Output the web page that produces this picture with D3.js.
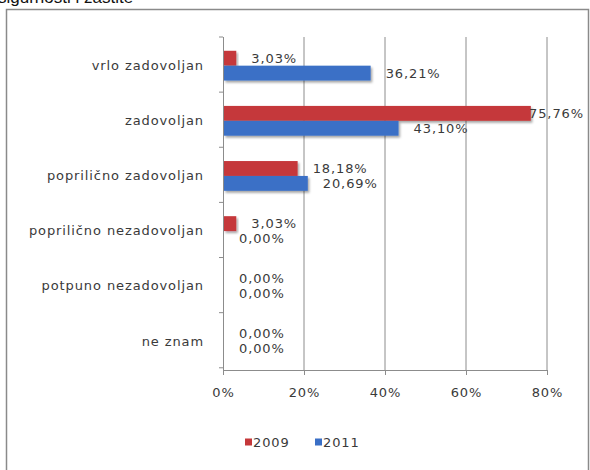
<!DOCTYPE html>
<html>
<head>
<meta charset="utf-8">
<script src="https://cdn.jsdelivr.net/npm/d3@7"></script>
<style>
  html, body { margin: 0; padding: 0; background: #fff; }
  svg { display: block; }
</style>
</head>
<body>
<svg id="chart" width="590" height="470"></svg>
<script>
const categories = ["vrlo zadovoljan", "zadovoljan", "prilično zadovoljan", "prilično nezadovoljan", "potpuno nezadovoljan", "ne znam"];
const categoryLabels = ["vrlo zadovoljan", "zadovoljan", "popriličnо zadovoljan", "popriličnо nezadovoljan", "potpuno nezadovoljan", "ne znam"];
const seriesNames = ["2009", "2011"];
const values2009 = [0.0303, 0.7576, 0.1818, 0.0303, 0.0, 0.0];
const values2011 = [0.3621, 0.4310, 0.2069, 0.0, 0.0, 0.0];
const xTicks = [0, 0.2, 0.4, 0.6, 0.8];
const colors = ["#c5383a", "#3a6fc6"];
const titleText = "sigurnosti i zaštite";

const svg = d3.select("#chart");
const defs = svg.append("defs");
const f = defs.append("filter").attr("id", "sh").attr("x", "-10%").attr("y", "-30%").attr("width", "130%").attr("height", "190%");
f.append("feDropShadow").attr("dx", 1.5).attr("dy", 2).attr("stdDeviation", 1.2).attr("flood-color", "#000").attr("flood-opacity", 0.35);

// partially visible heading above the chart box
svg.append("text").attr("x", -2).attr("y", 3)
  .attr("font-family", "Liberation Sans, Arial, sans-serif").attr("font-size", 17)
  .attr("fill", "#111").text(titleText);

// chart frame
svg.append("rect").attr("x", 6.5).attr("y", 9.5).attr("width", 582).attr("height", 470)
  .attr("fill", "#fff").attr("stroke", "#8a8a8a").attr("stroke-width", 1.5);

const plot = { left: 223, right: 547, top: 37, bottom: 370 };
const x = d3.scaleLinear().domain([0, 0.8]).range([plot.left, plot.right]);
const y = d3.scaleBand().domain(categories).range([plot.top, plot.bottom]).paddingInner(0.46).paddingOuter(0.25);
const ySub = d3.scaleBand().domain(seriesNames).range([0, y.bandwidth()]);

const font = "DejaVu Sans, Verdana, sans-serif";
const fs = 13;
const ls = "0.9px";
const textColor = "#3a3a3a";

function styleText(sel) {
  sel.attr("font-family", font).attr("font-size", fs).attr("letter-spacing", ls).attr("fill", textColor);
}

// gridlines
svg.append("g").selectAll("line").data(xTicks.filter(d => d > 0)).join("line")
  .attr("x1", d => x(d)).attr("x2", d => x(d))
  .attr("y1", plot.top).attr("y2", plot.bottom)
  .attr("stroke", "#8c8c8c").attr("stroke-width", 1);

// bottom axis
const xAxis = svg.append("g").attr("transform", `translate(0,${plot.bottom})`)
  .call(d3.axisBottom(x).tickValues(xTicks).tickFormat(d3.format(".0%")).tickSize(5).tickPadding(13));
xAxis.select(".domain").attr("stroke", "#8c8c8c").attr("d", `M${plot.left},0.5H${plot.right}`);
xAxis.selectAll(".tick line").attr("stroke", "#8c8c8c");
xAxis.selectAll("text").call(styleText);

// left axis with category labels
const yAxis = svg.append("g").attr("transform", `translate(${plot.left},0)`)
  .call(d3.axisLeft(y).tickSize(0).tickPadding(19).tickFormat((d, i) => categoryLabels[i]));
yAxis.select(".domain").attr("stroke", "#8c8c8c").attr("d", `M0.5,${plot.top}V${plot.bottom}`);
yAxis.selectAll("text").call(styleText);
// category boundary tick marks
const bounds = d3.range(categories.length + 1).map(i => plot.top + i * y.step());
yAxis.append("g").selectAll("line").data(bounds).join("line")
  .attr("x1", -4).attr("x2", 0).attr("y1", d => d).attr("y2", d => d)
  .attr("stroke", "#8c8c8c");

// bars
const rows = categories.map((c, i) => ({ cat: c, vals: [values2009[i], values2011[i]] }));
const bars = [];
rows.forEach(r => r.vals.forEach((v, j) => bars.push({ cat: r.cat, s: seriesNames[j], v, j })));

svg.append("g").selectAll("rect").data(bars.filter(b => b.v > 0)).join("rect")
  .attr("x", x(0) + 1)
  .attr("y", b => y(b.cat) + ySub(b.s))
  .attr("width", b => x(b.v) - x(0))
  .attr("height", ySub.bandwidth())
  .attr("fill", b => colors[b.j])
  .attr("filter", "url(#sh)");

// data labels
const fmt = v => d3.format(".2f")(v * 100).replace(".", ",") + "%";
const lbl = svg.append("g").selectAll("text").data(bars).join("text")
  .call(styleText)
  .attr("dominant-baseline", "central")
  .attr("y", b => y(b.cat) + ySub(b.s) + ySub.bandwidth() / 2)
  .text(b => fmt(b.v));
lbl.attr("x", function(b) {
  const w = this.getComputedTextLength();
  return Math.min(x(b.v) + 16, 584 - w);
});

// legend
const legend = svg.append("g").attr("transform", "translate(245,442)");
const items = legend.selectAll("g").data(seriesNames).join("g")
  .attr("transform", (d, i) => `translate(${i * 70},0)`);
items.append("rect").attr("x", 0).attr("y", -3.5).attr("width", 7).attr("height", 7)
  .attr("fill", (d, i) => colors[i]);
items.append("text").attr("x", 8).attr("y", 0).attr("dominant-baseline", "central")
  .call(styleText).text(d => d);
</script>
</body>
</html>
